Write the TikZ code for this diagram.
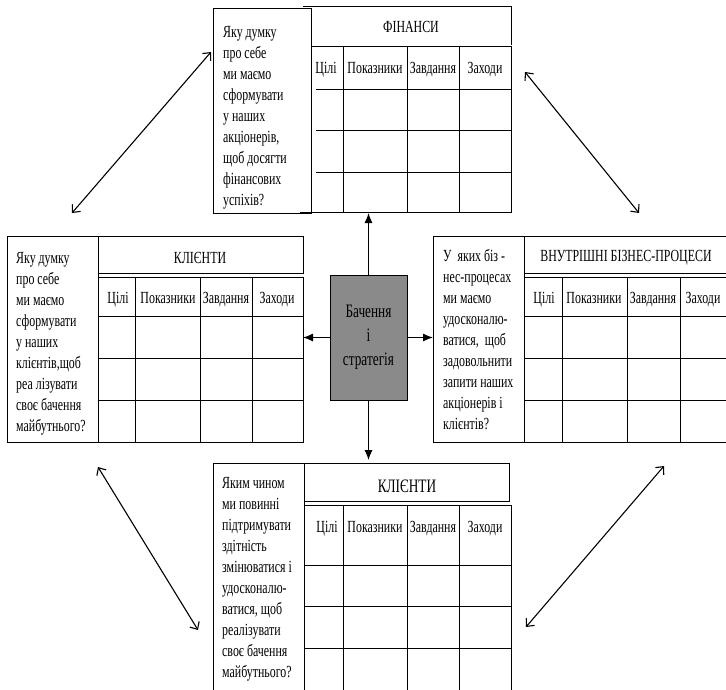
\documentclass[tikz,border=0pt]{standalone}
\usepackage{fontspec}
\setmainfont{Liberation Serif}[FakeStretch=0.7]
\usetikzlibrary{arrows.meta}
\definecolor{visgray}{RGB}{138,138,138}
\tikzset{
	ln/.style={line width=0.8pt},
	hd/.style={font=\fontsize{17}{21}\selectfont, inner sep=0pt, anchor=base},
	qtxt/.style={font=\fontsize{17}{21}\selectfont, align=left, inner sep=0pt, anchor=base west},
	dbl/.style={line width=1.1pt, {Straight Barb[length=6pt,width=11pt]}-{Straight Barb[length=6pt,width=11pt]}},
	sarr/.style={line width=1.1pt, -{Latex[length=10pt,width=8pt]}},
	vis/.style={draw, line width=0.8pt, fill=visgray, minimum width=77pt, minimum height=125pt, align=center, inner sep=0pt, font=\fontsize{19}{24}\selectfont}
}
\begin{document}
\begin{tikzpicture}[x=1pt,y=-1pt]
	\useasboundingbox (0,0) rectangle (726,689);
	\clip (0,0) rectangle (726,689);
	% finance
	\draw[ln] (213,8) rectangle (311,213);
	\draw[ln] (303,6) -- (511,6) -- (511,45);
	\draw[line width=1.6pt] (311,46.5) -- (511,46.5);
	\draw[ln] (511,46) -- (511,212) -- (300,212);
	\foreach \y in {89,130,172}
		\draw[ln] (316,\y) -- (511,\y);
	\foreach \x in {343,407,459}
		\draw[ln] (\x,47) -- (\x,212);
	\node[hd] (tfin) at (411,32) {ФІНАНСИ};
	\foreach \x/\t [count=\i] in {326/Цілі,375/Показники,433/Завдання,485/Заходи}
		\node[hd] (fin\i) at (\x,73) {\t};
	\node[qtxt] (qfin) at (223,205) {Яку думку\\про себе\\ми маємо\\сформувати\\у наших\\акціонерів,\\щоб досягти\\фінансових\\успіхів?};
	% clients
	\draw[ln] (7,236) rectangle (98,442);
	\draw[ln] (98,236) rectangle (303,273);
	\draw[ln] (98,277) rectangle (303,442);
	\foreach \y in {316,358,400}
		\draw[ln] (98,\y) -- (303,\y);
	\foreach \x in {135,200,252}
		\draw[ln] (\x,277) -- (\x,442);
	\node[hd] (tcli) at (200,263) {КЛІЄНТИ};
	\foreach \x/\t [count=\i] in {118/Цілі,168/Показники,226/Завдання,277/Заходи}
		\node[hd] (cli\i) at (\x,303) {\t};
	\node[qtxt] (qcli) at (16,431) {Яку думку\\про себе\\ми маємо\\сформувати\\у наших\\клієнтів,щоб\\реа лізувати\\своє бачення\\майбутнього?};
	% processes
	\draw[ln] (433,236) rectangle (524,442);
	\draw[ln] (524,236) rectangle (740,273);
	\draw[ln] (524,277) rectangle (740,442);
	\foreach \y in {316,358,400}
		\draw[ln] (524,\y) -- (740,\y);
	\foreach \x in {562,627,680}
		\draw[ln] (\x,277) -- (\x,442);
	\node[hd] (tpro) at (626,261) {ВНУТРІШНІ БІЗНЕС-ПРОЦЕСИ};
	\foreach \x/\t [count=\i] in {544/Цілі,594/Показники,653/Завдання,703/Заходи}
		\node[hd] (pro\i) at (\x,303) {\t};
	\node[qtxt] (qpro) at (443,429) {У~ яких біз -\\нес-процесах\\ми маємо\\удосконалю-\\ватися,~ щоб\\задовольнити\\запити наших\\акціонерів і\\клієнтів?};
	% learning
	\draw[ln] (213,700) -- (213,463) -- (304,463) -- (304,700);
	\draw[ln] (304,463) rectangle (509,501);
	\draw[ln] (304,505) -- (511,505) -- (511,700);
	\foreach \y in {565,606,648}
		\draw[ln] (304,\y) -- (511,\y);
	\foreach \x in {343,407,459}
		\draw[ln] (\x,505) -- (\x,700);
	\node[hd, font=\fontsize{19}{23}\selectfont] (tlrn) at (407,492) {КЛІЄНТИ};
	\foreach \x/\t [count=\i] in {327/Цілі,375/Показники,433/Завдання,485/Заходи}
		\node[hd] (lrn\i) at (\x,532) {\t};
	\node[qtxt] (qlrn) at (222,677) {Яким чином\\ми повинні\\підтримувати\\здітність\\змінюватися і\\удосконалю-\\ватися, щоб\\реалізувати\\своє бачення\\майбутнього?};
	% centre
	\node[vis] (vis) at (368.5,337.5) {Бачення\\і\\стратегія};
	\coordinate (finS) at (368.5,213);
	\coordinate (cliE) at (303,337.5);
	\coordinate (proW) at (433,337.5);
	\coordinate (lrnN) at (368.5,460);
	\draw[sarr] (vis.north) -- (finS);
	\draw[sarr] (vis.west) -- (cliE);
	\draw[sarr] (vis.east) -- (proW);
	\draw[sarr] (vis.south) -- (lrnN);
	\coordinate (d1a) at (72,213);
	\coordinate (d1b) at (211,52);
	\coordinate (d2a) at (525,72);
	\coordinate (d2b) at (639,213);
	\coordinate (d3a) at (98,467);
	\coordinate (d3b) at (198,630);
	\coordinate (d4a) at (664,466);
	\coordinate (d4b) at (526,627);
	\draw[dbl] (d1a) -- (d1b);
	\draw[dbl] (d2a) -- (d2b);
	\draw[dbl] (d3a) -- (d3b);
	\draw[dbl] (d4a) -- (d4b);
\end{tikzpicture}
\end{document}
